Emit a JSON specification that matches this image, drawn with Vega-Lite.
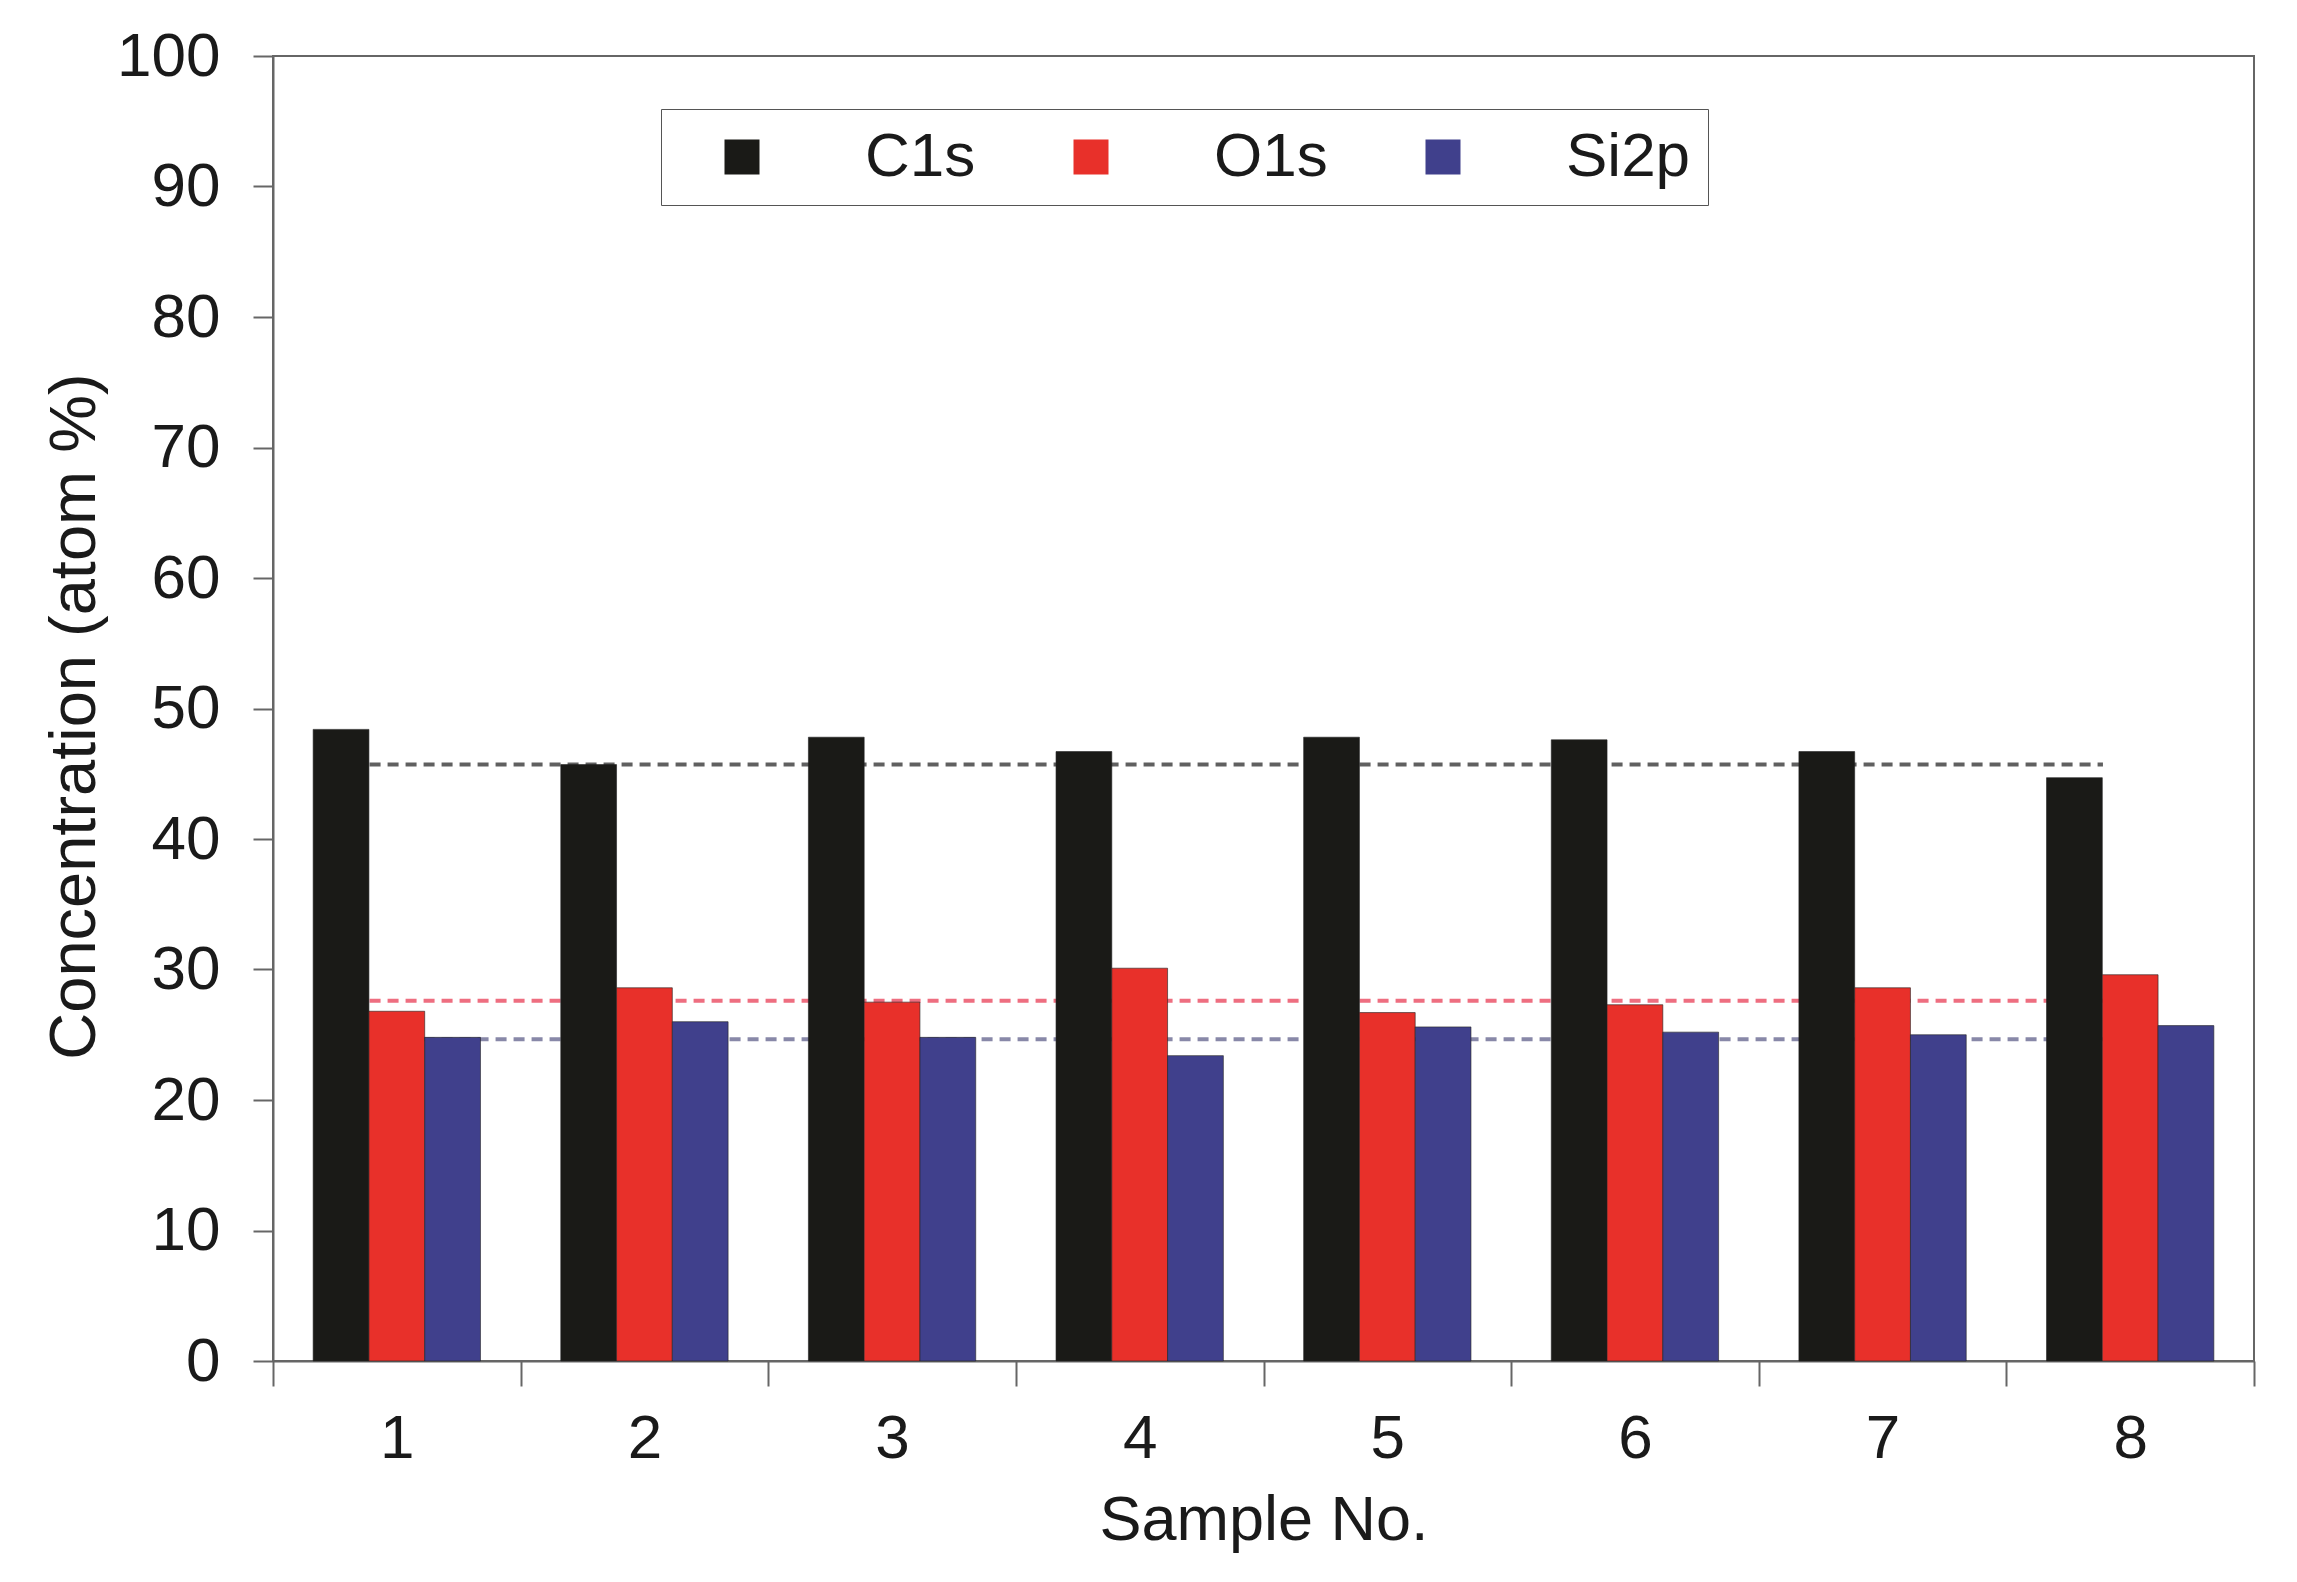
{
  "$schema": "https://vega.github.io/schema/vega-lite/v6.json",
  "autosize": {"type": "none"},
  "width": 1981,
  "height": 1305,
  "padding": {"left": 273, "top": 56, "right": 43, "bottom": 221},
  "background": "white",
  "config": {
    "font": "Liberation Sans",
    "view": {"stroke": "#666666", "strokeWidth": 2},
    "axis": {
      "labelFont": "Liberation Sans",
      "titleFont": "Liberation Sans",
      "labelColor": "#1a1a1a",
      "titleColor": "#1a1a1a",
      "titleFontWeight": "normal",
      "domainColor": "#666666",
      "domainWidth": 2,
      "tickColor": "#666666",
      "tickWidth": 2,
      "grid": false
    }
  },
  "datasets": {
    "bars": [
      {"sample": "1", "element": "C1s", "value": 48.4},
      {"sample": "1", "element": "O1s", "value": 26.8},
      {"sample": "1", "element": "Si2p", "value": 24.8},
      {"sample": "2", "element": "C1s", "value": 45.7},
      {"sample": "2", "element": "O1s", "value": 28.6},
      {"sample": "2", "element": "Si2p", "value": 26.0},
      {"sample": "3", "element": "C1s", "value": 47.8},
      {"sample": "3", "element": "O1s", "value": 27.5},
      {"sample": "3", "element": "Si2p", "value": 24.8},
      {"sample": "4", "element": "C1s", "value": 46.7},
      {"sample": "4", "element": "O1s", "value": 30.1},
      {"sample": "4", "element": "Si2p", "value": 23.4},
      {"sample": "5", "element": "C1s", "value": 47.8},
      {"sample": "5", "element": "O1s", "value": 26.7},
      {"sample": "5", "element": "Si2p", "value": 25.6},
      {"sample": "6", "element": "C1s", "value": 47.6},
      {"sample": "6", "element": "O1s", "value": 27.3},
      {"sample": "6", "element": "Si2p", "value": 25.2},
      {"sample": "7", "element": "C1s", "value": 46.7},
      {"sample": "7", "element": "O1s", "value": 28.6},
      {"sample": "7", "element": "Si2p", "value": 25.0},
      {"sample": "8", "element": "C1s", "value": 44.7},
      {"sample": "8", "element": "O1s", "value": 29.6},
      {"sample": "8", "element": "Si2p", "value": 25.7}
    ],
    "means": [
      {"sample": "1", "series": "C1s mean", "value": 45.7},
      {"sample": "8", "series": "C1s mean", "value": 45.7},
      {"sample": "1", "series": "O1s mean", "value": 27.6},
      {"sample": "8", "series": "O1s mean", "value": 27.6},
      {"sample": "1", "series": "Si2p mean", "value": 24.65},
      {"sample": "8", "series": "Si2p mean", "value": 24.65}
    ]
  },
  "encoding": {
    "x": {
      "field": "sample",
      "type": "nominal",
      "scale": {"domain": ["1","2","3","4","5","6","7","8"], "paddingInner": 0, "paddingOuter": 0},
      "axis": {
        "title": "Sample No.",
        "labelAngle": 0,
        "labelFontSize": 62,
        "titleFontSize": 63,
        "tickSize": 25,
        "tickBand": "extent",
        "labelPadding": 22,
        "titlePadding": 20
      }
    },
    "y": {
      "field": "value",
      "type": "quantitative",
      "scale": {"domain": [0, 100], "nice": false},
      "axis": {
        "title": "Concentration (atom %)",
        "values": [0,10,20,30,40,50,60,70,80,90,100],
        "labelFontSize": 62,
        "titleFontSize": 65,
        "tickSize": 20,
        "labelPadding": 33,
        "titlePadding": 8,
        "titleY": 660
      }
    }
  },
  "layer": [
    {
      "data": {"name": "means"},
      "mark": {"type": "line", "strokeDash": [11, 7], "strokeWidth": 4},
      "encoding": {
        "x": {"field": "sample", "type": "nominal", "bandPosition": 0.39},
        "detail": {"field": "series"},
        "stroke": {
          "field": "series",
          "type": "nominal",
          "scale": {"domain": ["C1s mean", "O1s mean", "Si2p mean"], "range": ["#606060", "#ee6e80", "#8888a8"]},
          "legend": null
        }
      }
    },
    {
      "data": {"name": "bars"},
      "mark": {"type": "bar", "stroke": "#222222", "strokeWidth": 1, "strokeOpacity": 0.6},
      "encoding": {
        "xOffset": {
          "field": "element",
          "type": "nominal",
          "sort": ["C1s", "O1s", "Si2p"],
          "scale": {"paddingInner": 0, "paddingOuter": 0.72}
        },
        "color": {
          "field": "element",
          "type": "nominal",
          "scale": {"domain": ["C1s", "O1s", "Si2p"], "range": ["#1a1a17", "#e8302a", "#40408c"]},
          "legend": {
            "orient": "none",
            "direction": "horizontal",
            "legendX": 388,
            "legendY": 53,
            "title": " ",
            "titleOrient": "left",
            "titleFontSize": 10,
            "titlePadding": 33,
            "padding": 17,
            "strokeColor": "#555555",
            "fillColor": "white",
            "symbolType": "square",
            "symbolSize": 1225,
            "symbolStrokeWidth": 0,
            "labelFontSize": 62,
            "labelFont": "Liberation Sans",
            "labelColor": "#1a1a1a",
            "labelOffset": 92,
            "columnPadding": 84
          }
        }
      }
    }
  ]
}
